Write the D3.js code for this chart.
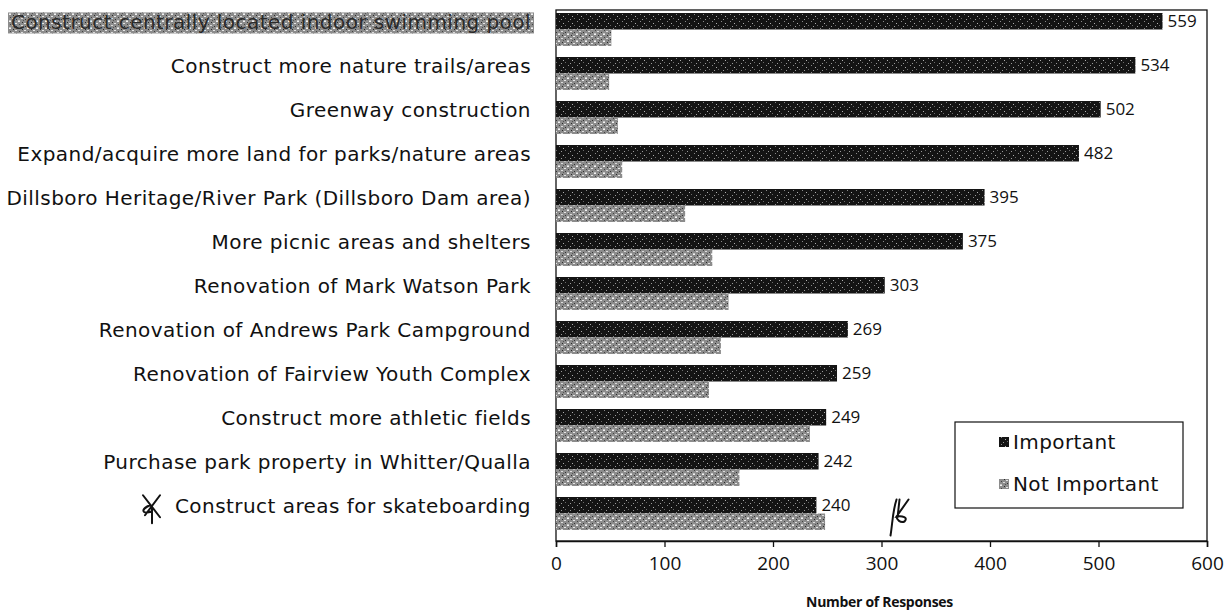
<!DOCTYPE html>
<html>
<head>
<meta charset="utf-8">
<script src="https://cdn.jsdelivr.net/npm/d3@7"></script>
<style>
  html, body { margin: 0; padding: 0; background: #fff; }
  svg { display: block; }
  text { font-family: "Open Sans", "Noto Sans", sans-serif; fill: #111; }
</style>
</head>
<body>
<svg id="chart" width="1230" height="616"></svg>
<script>
// ---- data ----
const categories = [
  "Construct centrally located indoor swimming pool",
  "Construct more nature trails/areas",
  "Greenway construction",
  "Expand/acquire more land for parks/nature areas",
  "Dillsboro Heritage/River Park (Dillsboro Dam area)",
  "More picnic areas and shelters",
  "Renovation of Mark Watson Park",
  "Renovation of Andrews Park Campground",
  "Renovation of Fairview Youth Complex",
  "Construct more athletic fields",
  "Purchase park property in Whitter/Qualla",
  "Construct areas for skateboarding"
];
const seriesNames = ["Important", "Not Important"];
const important    = [559, 534, 502, 482, 395, 375, 303, 269, 259, 249, 242, 240];
const notImportant = [51, 49, 57, 61, 119, 144, 159, 152, 141, 234, 169, 248];
const xTicks = [0, 100, 200, 300, 400, 500, 600];
const xTitle = "Number of Responses";

// ---- layout ----
const svg = d3.select("#chart");
const plot = { left: 556, right: 1207, top: 10, bottom: 541 };
const labelFont = "\"DejaVu Sans\", sans-serif";

const x = d3.scaleLinear().domain([0, 600]).range([plot.left, plot.right]);
const y0 = d3.scaleBand().domain(categories).range([13, 530]).paddingInner(0.25).paddingOuter(0);
const y1 = d3.scaleBand().domain(seriesNames).range([0, y0.bandwidth()]).padding(0);

// ---- textures (scanned look) ----
const defs = svg.append("defs");
function makePattern(id, base, dots) {
  const p = defs.append("pattern").attr("id", id).attr("patternUnits", "userSpaceOnUse")
    .attr("width", 9).attr("height", 7);
  p.append("rect").attr("width", 9).attr("height", 7).attr("fill", base);
  dots.forEach(d => p.append("rect").attr("x", d[0]).attr("y", d[1]).attr("width", d[2] || 1).attr("height", 1).attr("fill", d[3]));
}
makePattern("darkTex", "#141414", [[1,1,1,"#8a8a8a"],[5,3,1,"#b0b0b0"],[7,5,1,"#6a6a6a"],[3,6,1,"#9a9a9a"]]);
makePattern("grayTex", "#8c8c8c", [[0,0,2,"#f2f2f2"],[4,1,1,"#2a2a2a"],[6,2,2,"#e6e6e6"],[1,3,1,"#444"],[3,4,2,"#dcdcdc"],[7,5,1,"#333"],[0,6,2,"#c8c8c8"],[5,6,1,"#555"]]);
const fills = { "Important": "url(#darkTex)", "Not Important": "url(#grayTex)" };

// ---- frame ----
svg.append("rect").attr("x", plot.left).attr("y", plot.top)
  .attr("width", plot.right - plot.left).attr("height", plot.bottom - plot.top)
  .attr("fill", "none").attr("stroke", "#111").attr("stroke-width", 1.3);

// ---- bars ----
const rows = categories.map((c, i) => ({ cat: c, vals: [
  { key: "Important", v: important[i] }, { key: "Not Important", v: notImportant[i] } ] }));

const g = svg.append("g");
const grp = g.selectAll("g.row").data(rows).join("g").attr("class", "row")
  .attr("transform", d => `translate(0,${y0(d.cat)})`);
grp.selectAll("rect").data(d => d.vals).join("rect")
  .attr("x", x(0))
  .attr("y", d => y1(d.key))
  .attr("width", d => x(d.v) - x(0))
  .attr("height", y1.bandwidth())
  .attr("fill", d => fills[d.key]);

// value labels for Important
grp.append("text")
  .attr("x", (d, i) => x(important[i]) + 5)
  .attr("y", y1("Important") + y1.bandwidth() / 2)
  .attr("dy", "0.36em")
  .attr("font-size", 17)
  .text((d, i) => important[i]);

// ---- category labels ----
const labelX = 531;
const labelBg = svg.append("g");
const labelG = svg.append("g");
categories.forEach((c, i) => {
  const cy = y0(c) + y1.bandwidth() / 2 + 1;
  const t = labelG.append("text").attr("x", labelX).attr("y", cy).attr("dy", "0.36em")
    .attr("text-anchor", "end").attr("font-size", 20).attr("letter-spacing", 0.45)
    .style("font-family", labelFont).text(c);
  if (i === 0) {
    const bb = t.node().getBBox();
    labelBg.append("rect").attr("x", bb.x - 3).attr("y", bb.y + 2)
      .attr("width", bb.width + 6).attr("height", bb.height - 3)
      .attr("fill", "url(#grayTex)");
    t.style("fill", "#2a2a2a");
  }
});

// ---- x axis ----
const xAxis = d3.axisBottom(x).tickValues(xTicks).tickSize(6).tickPadding(10);
const ax = svg.append("g").attr("transform", `translate(0,${plot.bottom})`).call(xAxis);
ax.select(".domain").attr("stroke", "#111").attr("stroke-width", 1.5);
ax.selectAll(".tick line").attr("stroke", "#111").attr("stroke-width", 1.3);
ax.selectAll(".tick text").attr("font-size", 19).style("font-family", "\"Open Sans\", sans-serif").attr("fill", "#111");

svg.append("text").attr("x", (plot.left + plot.right) / 2 - 2).attr("y", 607)
  .attr("text-anchor", "middle").attr("font-size", 14).attr("font-weight", "bold")
  .attr("letter-spacing", -0.3)
  .text(xTitle);

// ---- legend ----
const lg = svg.append("g").attr("transform", "translate(955,422)");
lg.append("rect").attr("width", 228).attr("height", 86).attr("fill", "#fff")
  .attr("stroke", "#111").attr("stroke-width", 1.2);
seriesNames.forEach((s, i) => {
  const yy = 20 + i * 42;
  lg.append("rect").attr("x", 44).attr("y", yy - 5).attr("width", 10).attr("height", 10).attr("fill", fills[s]);
  lg.append("text").attr("x", 58).attr("y", yy).attr("dy", "0.36em").attr("font-size", 20)
    .attr("letter-spacing", 0.4).style("font-family", labelFont).text(s);
});

// ---- handwritten marks (annotations) ----
const ink = svg.append("g").attr("fill", "none").attr("stroke", "#111").attr("stroke-width", 2).attr("stroke-linecap", "round");
const sy = y0(categories[11]) + y1.bandwidth() / 2 + 2;
ink.append("path").attr("d", `M143,${sy-12} L160,${sy+10} M160,${sy-12} L145,${sy+8} M150,${sy-2} C140,${sy+2} 142,${sy+8} 152,${sy+4} M152,${sy} L152,${sy+16}`);
const my = y0(categories[11]) + y1.bandwidth();
const mx = x(312);
ink.append("path").attr("d", `M${mx+2},${my-14} C${mx-2},${my-2} ${mx-2},${my+10} ${mx-4},${my+22} M${mx+5},${my-14} L${mx+3},${my+4} M${mx+14},${my-14} L${mx+2},${my+3} C${mx+8},${my+2} ${mx+14},${my+4} ${mx+10},${my+8} C${mx+6},${my+10} ${mx+2},${my+6} ${mx+2},${my+3}`);
</script>
</body>
</html>
